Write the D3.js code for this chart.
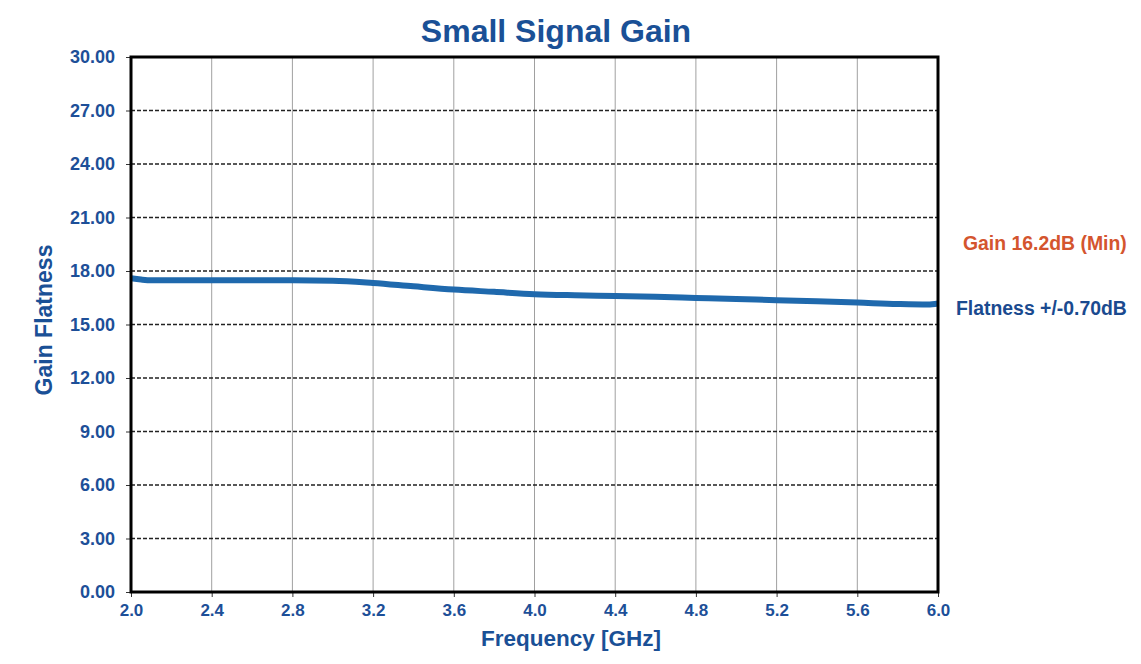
<!DOCTYPE html>
<html><head><meta charset="utf-8">
<script src="https://cdn.jsdelivr.net/npm/d3@7/dist/d3.min.js"></script>
<style>
html,body{margin:0;padding:0;background:#fff;}
svg{display:block;font-family:"Liberation Sans",Arial,sans-serif;}
</style></head>
<body>
<svg id="c" width="1141" height="664"></svg>
<script>
const freq = [2.0, 2.05, 2.1, 2.4, 2.8, 3.0, 3.2, 3.4, 3.6, 3.8, 4.0, 4.2, 4.4, 4.6, 4.8, 5.0, 5.2, 5.4, 5.6, 5.8, 5.95, 6.0];
const gain = [17.59, 17.52, 17.48, 17.48, 17.48, 17.46, 17.33, 17.14, 16.96, 16.83, 16.70, 16.64, 16.60, 16.55, 16.49, 16.43, 16.36, 16.30, 16.23, 16.15, 16.12, 16.18];
const xTicks = [2.0, 2.4, 2.8, 3.2, 3.6, 4.0, 4.4, 4.8, 5.2, 5.6, 6.0];
const yTicks = [0, 3, 6, 9, 12, 15, 18, 21, 24, 27, 30];
const title = "Small Signal Gain";
const xLabel = "Frequency [GHz]";
const yLabel = "Gain Flatness";
const notes = ["Gain 16.2dB (Min)", "Flatness +/-0.70dB"];

const svg = d3.select("#c");
const L = 131, R = 938, T = 57, B = 592;
const x = d3.scaleLinear().domain([2, 6]).range([L, R]);
const y = d3.scaleLinear().domain([0, 30]).range([B, T]);
const blue = "#1d4f98";

// vertical grid
svg.append("g").selectAll("line").data(xTicks.slice(1, -1)).join("line")
  .attr("x1", d => x(d)).attr("x2", d => x(d)).attr("y1", T).attr("y2", B)
  .attr("stroke", "#a0a0a0").attr("stroke-width", 1);
// horizontal dashed grid
svg.append("g").selectAll("line").data(yTicks.slice(1, -1)).join("line")
  .attr("x1", L).attr("x2", R).attr("y1", d => y(d)).attr("y2", d => y(d))
  .attr("stroke", "#222").attr("stroke-width", 1.4).attr("stroke-dasharray", "4,2");

// axes
const yAxis = svg.append("g").attr("transform", `translate(${L},0)`)
  .call(d3.axisLeft(y).tickValues(yTicks).tickFormat(d3.format(".2f")).tickSize(5).tickPadding(11));
const xAxis = svg.append("g").attr("transform", `translate(0,${B})`)
  .call(d3.axisBottom(x).tickValues(xTicks).tickFormat(d3.format(".1f")).tickSize(5).tickPadding(7));
[[yAxis, 18], [xAxis, 17]].forEach(([a, fs]) => {
  a.attr("font-size", fs).attr("font-family", "'Liberation Sans',Arial,sans-serif");
  a.select(".domain").remove();
  a.selectAll(".tick line").attr("stroke", "#333");
  a.selectAll("text").attr("fill", blue).style("font-size", fs + "px").attr("font-weight", "bold");
});

// line
svg.append("path").datum(freq.map((f, i) => [f, gain[i]]))
  .attr("d", d3.line().x(d => x(d[0])).y(d => y(d[1])).curve(d3.curveMonotoneX))
  .attr("fill", "none").attr("stroke", "#1f69ad").attr("stroke-width", 6).attr("stroke-linecap", "butt");

// frame
svg.append("rect").attr("x", L).attr("y", T).attr("width", R - L).attr("height", B - T)
  .attr("fill", "none").attr("stroke", "#000").attr("stroke-width", 3);

// texts
svg.append("text").attr("x", 556).attr("y", 42).attr("text-anchor", "middle")
  .attr("fill", "#1a5096").attr("font-size", 32).attr("font-weight", "bold").text(title);
svg.append("text").attr("x", 571).attr("y", 646).attr("text-anchor", "middle")
  .attr("fill", "#1a5096").attr("font-size", 22.5).attr("font-weight", "bold").text(xLabel);
svg.append("text").attr("transform", "translate(52,320) rotate(-90)").attr("text-anchor", "middle")
  .attr("fill", "#1a5096").attr("font-size", 23).attr("font-weight", "bold").text(yLabel);
svg.append("text").attr("x", 963).attr("y", 250)
  .attr("fill", "#d4552e").attr("font-size", 19.4).attr("font-weight", "bold").text(notes[0]);
svg.append("text").attr("x", 956).attr("y", 315)
  .attr("fill", "#1a4a8f").attr("font-size", 19.4).attr("font-weight", "bold").text(notes[1]);
</script>
</body></html>
